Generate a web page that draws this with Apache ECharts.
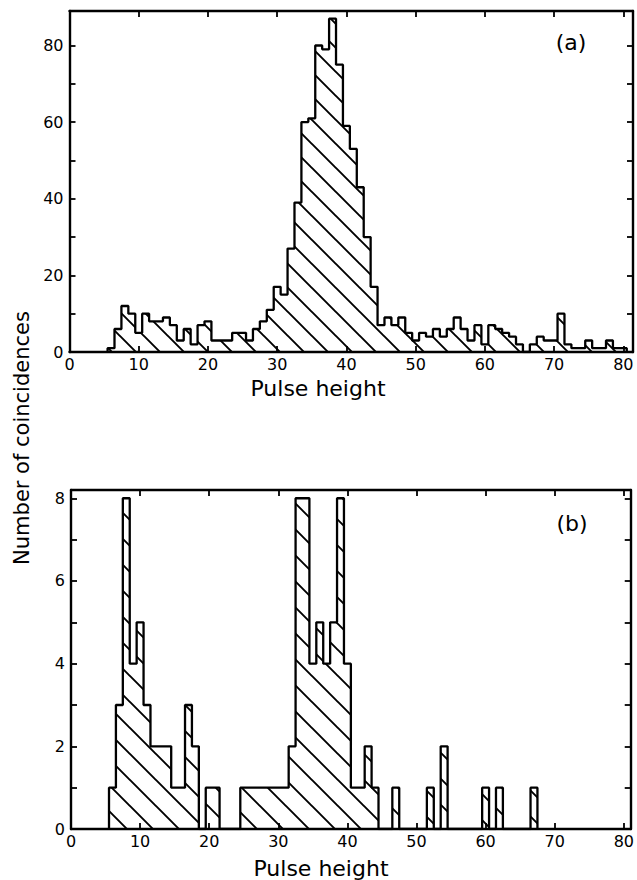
<!DOCTYPE html>
<html>
<head>
<meta charset="utf-8">
<script src="https://cdn.jsdelivr.net/npm/echarts@6/dist/echarts.min.js"></script>
<style>
html,body{margin:0;padding:0;background:#fff;}
#chart{width:637px;height:880px;}
</style>
</head>
<body>
<div id="chart"></div>
<script>
// ---------- data ----------
// Panel (a): counts per unit pulse-height bin, first bin centred at 6
const startBinA = 6;
const countsA = [1, 6, 12, 10, 5, 10, 8, 8, 9, 7,
                 3, 6, 2, 7, 8, 3, 3, 3, 5, 5,
                 3, 6, 8, 11, 17, 15, 27, 39, 60, 61,
                 80, 79, 87, 75, 59, 53, 43, 30, 17, 7,
                 9, 7, 9, 5, 3, 5, 4, 6, 4, 6,
                 9, 6, 3, 7, 2, 7, 6, 5, 4, 2,
                 0, 2, 4, 3, 3, 10, 2, 1, 1, 3,
                 1, 1, 3, 1, 1];
// Panel (b): first bin centred at 6
const startBinB = 6;
const countsB = [1, 3, 8, 4, 5, 3, 2, 2, 2, 1,
                 1, 3, 2, 0, 1, 1, 0, 0, 0, 1,
                 1, 1, 1, 1, 1, 1, 2, 8, 8, 4,
                 5, 4, 5, 8, 4, 1, 1, 2, 1, 0,
                 0, 1, 0, 0, 0, 0, 1, 0, 2, 0,
                 0, 0, 0, 0, 1, 0, 1, 0, 0, 0,
                 0, 1];
const xTicks = [0, 10, 20, 30, 40, 50, 60, 70, 80];
const yLabelsA = [0, 20, 40, 60, 80];
const yLabelsB = [0, 2, 4, 6, 8];
const xTitle = 'Pulse height';
const yTitle = 'Number of coincidences';
const panelTags = ['(a)', '(b)'];

// ---------- helpers ----------
function outline(start, counts) {
  const pts = [[start - 0.5, 0]];
  counts.forEach((c, i) => pts.push([start + i - 0.5, c]));
  pts.push([start + counts.length - 0.5, 0]);
  return pts;
}
function hatch(s, w) {
  const c = document.createElement('canvas');
  c.width = s; c.height = s;
  const g = c.getContext('2d');
  g.strokeStyle = '#000';
  g.lineWidth = w;
  g.beginPath();
  [-1, 0, 1].forEach(k => { g.moveTo(k * s - 2, -2); g.lineTo(k * s + s + 2, s + 2); });
  g.stroke();
  return { image: c, repeat: 'repeat', imageWidth: s, imageHeight: s };
}

const FONT = 'DejaVu Sans';
const black = '#000';

function xAxisDef(grid, max, top) {
  return {
    type: 'value', gridIndex: grid, min: 0, max: max, interval: 10,
    position: top ? 'top' : 'bottom',
    axisLine: { onZero: false, lineStyle: { color: black, width: 2.4 } },
    axisTick: { inside: true, length: 6, lineStyle: { color: black, width: 1.8 } },
    splitLine: { show: false },
    axisLabel: top ? { show: false } : {
      margin: 4, color: black, fontSize: 16, fontFamily: FONT,
      formatter: v => (xTicks.indexOf(v) >= 0 ? String(v) : '')
    }
  };
}
function yAxisDef(grid, max, interval, labels, right) {
  return {
    type: 'value', gridIndex: grid, min: 0, max: max, interval: interval,
    position: right ? 'right' : 'left',
    axisLine: { show: true, onZero: false, lineStyle: { color: black, width: 2.4 } },
    axisTick: { show: true, inside: true, length: 6, lineStyle: { color: black, width: 1.8 } },
    splitLine: { show: false },
    axisLabel: right ? { show: false } : {
      margin: 6, color: black, fontSize: 16, fontFamily: FONT,
      formatter: v => (labels.indexOf(v) >= 0 ? String(v) : '')
    }
  };
}
function histSeries(xi, yi, data, pat) {
  return {
    type: 'line', xAxisIndex: xi, yAxisIndex: yi, data: data,
    step: 'end', showSymbol: false, symbol: 'none', silent: true,
    lineStyle: { color: black, width: 2.3 },
    areaStyle: { color: pat, opacity: 1 },
    z: 3
  };
}

const chart = echarts.init(document.getElementById('chart'), null, { renderer: 'svg' });
chart.setOption({
  animation: false,
  backgroundColor: '#fff',
  grid: [
    { left: 69.5, top: 11, width: 563.5, height: 341 },
    { left: 71, top: 490, width: 563, height: 339 }
  ],
  xAxis: [xAxisDef(0, 81.4, false), xAxisDef(0, 81.4, true), xAxisDef(1, 81, false), xAxisDef(1, 81, true)],
  yAxis: [yAxisDef(0, 89, 10, yLabelsA, false), yAxisDef(0, 89, 10, yLabelsA, true),
          yAxisDef(1, 8.2, 1, yLabelsB, false), yAxisDef(1, 8.2, 1, yLabelsB, true)],
  series: [
    histSeries(0, 0, outline(startBinA, countsA), hatch(24, 1.9)),
    histSeries(2, 2, outline(startBinB, countsB), hatch(26, 1.9))
  ],
  graphic: [
    { type: 'text', x: 22, y: 438, rotation: Math.PI / 2,
      style: { text: yTitle, font: '21px "' + FONT + '"', fill: black, textAlign: 'center', textVerticalAlign: 'middle' } },
    { type: 'text', x: 318, y: 388,
      style: { text: xTitle, font: '22px "' + FONT + '"', fill: black, textAlign: 'center', textVerticalAlign: 'middle' } },
    { type: 'text', x: 321, y: 868,
      style: { text: xTitle, font: '22px "' + FONT + '"', fill: black, textAlign: 'center', textVerticalAlign: 'middle' } },
    { type: 'text', x: 571, y: 42,
      style: { text: panelTags[0], font: '22px "' + FONT + '"', fill: black, textAlign: 'center', textVerticalAlign: 'middle' } },
    { type: 'text', x: 572, y: 523,
      style: { text: panelTags[1], font: '22px "' + FONT + '"', fill: black, textAlign: 'center', textVerticalAlign: 'middle' } }
  ]
});
</script>
</body>
</html>
